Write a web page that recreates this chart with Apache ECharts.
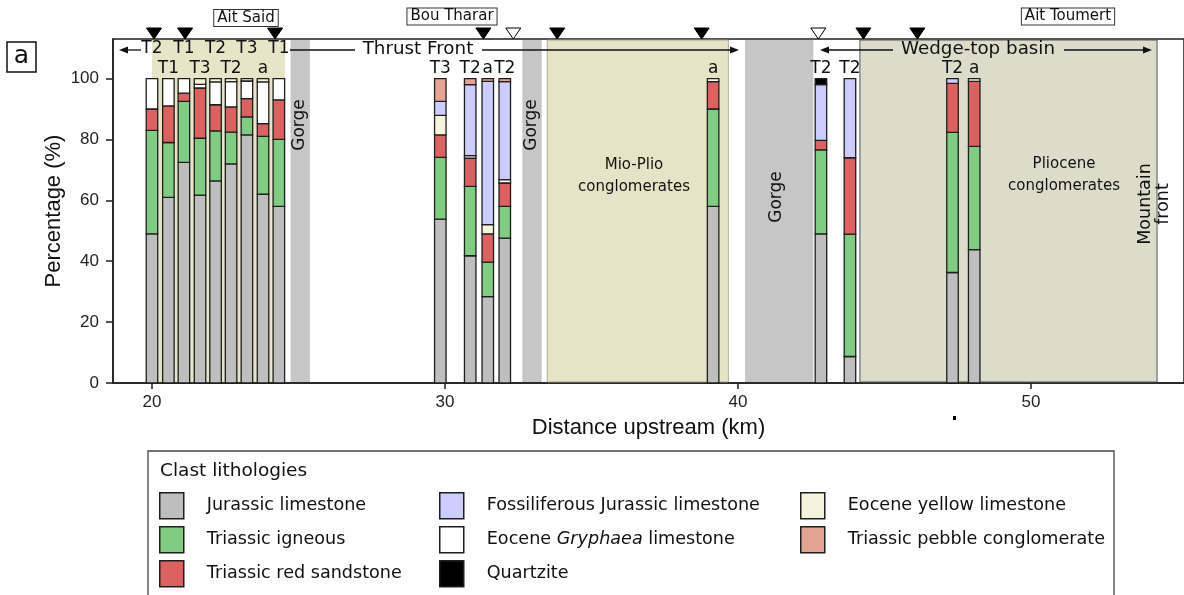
<!DOCTYPE html>
<html>
<head>
<meta charset="utf-8">
<script src="https://cdn.jsdelivr.net/npm/echarts@6/dist/echarts.min.js"></script>
<style>
  html, body { margin: 0; padding: 0; background: #fff; }
  #chart { width: 1184px; height: 595px; }
</style>
</head>
<body>
<div id="chart"></div>
<script>
// sample positions along the river (km) and the terrace each one belongs to
const distance = [20.0, 20.56, 21.09, 21.64, 22.17, 22.70, 23.24, 23.79, 24.33,
  29.84, 30.86, 31.46, 32.04, 39.15, 42.83, 43.82, 47.32, 48.06];
const terrace = ['T2', 'T1', 'T1', 'T3', 'T2', 'T2', 'T3', 'a', 'T1',
  'T3', 'T2', 'a', 'T2', 'a', 'T2', 'T2', 'T2', 'a'];
const labelRow = [1, 2, 1, 2, 1, 2, 1, 2, 1, 2, 2, 2, 2, 2, 2, 2, 2, 2];

// clast counts (% of each sample), listed bottom to top of the stacks
const jurassic = [49, 61, 72.5, 61.7, 66.4, 72, 81.5, 62, 58, 53.8, 41.8, 28.4, 47.6, 58, 49, 8.7, 36.3, 43.8];
const igneous = [34, 18, 20, 18.7, 16.4, 10.4, 5.9, 19, 22, 20.3, 22.8, 11.3, 10.4, 32, 27.6, 40.2, 46, 33.9];
const redSandstone = [7, 12, 2.7, 16.5, 8.6, 8.3, 6, 4.2, 13, 7.4, 9.3, 9.3, 7.7, 9, 3.1, 25.1, 16.1, 21.4];
const gryphaea = [10, 9, 4.8, 1.2, 7.5, 8.3, 5.8, 13.7, 7, 0, 0.8, 0, 1.1, 1, 0, 0, 0, 0];
const yellowLimestone = [0, 0, 0, 1.9, 1.1, 1, 0.8, 1.1, 0, 6.4, 0, 3, 0, 0, 0, 0, 0, 0.9];
const fossiliferous = [0, 0, 0, 0, 0, 0, 0, 0, 0, 4.6, 23.3, 47.1, 32.2, 0, 18.3, 26, 1.6, 0];
const pebbleConglomerate = [0, 0, 0, 0, 0, 0, 0, 0, 0, 7.5, 2, 0.9, 1, 0, 0, 0, 0, 0];
const quartzite = [0, 0, 0, 0, 0, 0, 0, 0, 0, 0, 0, 0, 0, 0, 2, 0, 0, 0];

const lithologies = ['Jurassic limestone', 'Triassic igneous', 'Triassic red sandstone',
  'Eocene Gryphaea limestone', 'Eocene yellow limestone', 'Fossiliferous Jurassic limestone',
  'Triassic pebble conglomerate', 'Quartzite'];
const layers = [jurassic, igneous, redSandstone, gryphaea, yellowLimestone, fossiliferous, pebbleConglomerate, quartzite];
const colors = ['#bebebe', '#80cc82', '#dc6262', '#ffffff', '#f4f4dc', '#ccccff', '#e3a592', '#000000'];

// shaded reaches (km)
const reachStart = [20.0, 24.73, 32.64, 33.49, 40.24, 44.16];
const reachEnd = [24.54, 25.39, 33.30, 39.67, 42.57, 54.30];
const reachKind = ['terrace', 'gorge', 'gorge', 'mio', 'gorge', 'wedge'];

// sampling sites marked above the frame (km)
const filledMarks = [20.07, 21.13, 24.2, 31.31, 33.83, 38.76, 44.28, 46.12];
const openMarks = [32.33, 42.74];

const xTicks = [20, 30, 40, 50];
const yTicks = [0, 20, 40, 60, 80, 100];

const SANS = 'DejaVu Sans';
const AX = 'Liberation Sans';
const BAR_W = 11.5;

const reachStyle = {
  terrace: { fill: '#e7e5c7' },
  gorge: { fill: '#c6c6c6' },
  mio: { fill: '#e6e4c6', stroke: '#9a9a88', lineWidth: 0.8 },
  wedge: { fill: '#dcdccb', stroke: '#555', lineWidth: 1 }
};

const chart = echarts.init(document.getElementById('chart'));

// stack each lithology on top of the previous ones
const stackTop = distance.map(() => 0);
const barSeries = layers.map((vals, k) => {
  const data = distance.map((x, i) => {
    const lo = stackTop[i];
    stackTop[i] += vals[i];
    return [x, lo, stackTop[i]];
  });
  return {
    name: lithologies[k],
    type: 'custom',
    z: 3,
    itemStyle: { color: colors[k] },
    encode: { x: 0, y: [1, 2] },
    data: data,
    renderItem: (params, api) => {
      const lo = api.value(1), hi = api.value(2);
      if (hi - lo <= 0) return;
      const p0 = api.coord([api.value(0), lo]);
      const p1 = api.coord([api.value(0), hi]);
      return {
        type: 'rect',
        shape: { x: p0[0] - BAR_W / 2, y: p1[1], width: BAR_W, height: p0[1] - p1[1] },
        style: { fill: colors[k], stroke: '#1e1e1e', lineWidth: 1.3 }
      };
    }
  };
});

const reachSeries = {
  name: 'reaches',
  type: 'custom',
  z: 1,
  silent: true,
  encode: { x: [0, 1] },
  data: reachStart.map((s, i) => [s, reachEnd[i], i]),
  renderItem: (params, api) => {
    const cs = params.coordSys;
    const x0 = api.coord([api.value(0), 0])[0];
    const x1 = api.coord([api.value(1), 0])[0];
    const st = reachStyle[reachKind[api.value(2)]];
    return {
      type: 'rect',
      shape: { x: x0, y: cs.y + 1, width: x1 - x0, height: cs.height - 2 },
      style: Object.assign({ stroke: null }, st)
    };
  }
};

const legendCols = [[0, 1, 2], [5, 3, 7], [4, 6]];
const legendLeft = [159, 439, 800];

const axisLineStyle = { color: '#1e1e1e', width: 1.5 };

chart.setOption({
  animation: false,
  grid: { left: 113, top: 39, right: -3, bottom: 212, show: true, borderColor: '#1e1e1e', borderWidth: 1.5, backgroundColor: 'transparent' },
  xAxis: {
    type: 'value', min: 18.67, max: 55.22,
    splitLine: { show: false },
    axisLine: { show: true, lineStyle: axisLineStyle },
    axisTick: { show: true, customValues: xTicks, length: 6, lineStyle: axisLineStyle },
    axisLabel: { customValues: xTicks, fontFamily: AX, fontSize: 17, color: '#222', margin: 11 },
    name: 'Distance upstream (km)', nameLocation: 'middle', nameGap: 34,
    nameTextStyle: { fontFamily: AX, fontSize: 22, color: '#111' }
  },
  yAxis: {
    type: 'value', min: 0, max: 113,
    splitLine: { show: false },
    axisLine: { show: true, lineStyle: axisLineStyle },
    axisTick: { show: true, customValues: yTicks, length: 7, lineStyle: axisLineStyle },
    axisLabel: { customValues: yTicks, fontFamily: AX, fontSize: 17, color: '#222', margin: 14 },
    name: 'Percentage (%)', nameLocation: 'middle', nameGap: 48, nameMoveOverlap: false,
    nameTextStyle: { fontFamily: AX, fontSize: 22, color: '#111' }
  },
  legend: legendCols.map((col, c) => ({
    left: legendLeft[c], top: 492, orient: 'vertical',
    itemWidth: 24, itemHeight: 26, itemGap: 6.5, icon: 'rect', padding: 0,
    selectedMode: false,
    itemStyle: { borderColor: '#1e1e1e', borderWidth: 1.5 },
    data: col.map(k => lithologies[k]),
    formatter: n => n === 'Eocene Gryphaea limestone' ? 'Eocene {i|Gryphaea} limestone' : n,
    textStyle: {
      fontFamily: SANS, fontSize: 17.6, color: '#111', padding: [0, 0, 0, 18],
      rich: { i: { fontFamily: SANS, fontSize: 17.6, fontStyle: 'italic', color: '#111' } }
    }
  })),
  series: [reachSeries].concat(barSeries)
});

// annotations placed from the x scale
const px = km => chart.convertToPixel({ xAxisIndex: 0 }, km);
const g = [];
const font = s => s + 'px "' + SANS + '"';
function txt(x, y, text, size, extra) {
  g.push(Object.assign({
    type: 'text', x: x, y: y, z: 100,
    style: { text: text, font: font(size), fill: '#111', align: 'center', verticalAlign: 'middle', lineHeight: 22 }
  }, extra || {}));
}
function hline(x1, x2, y) {
  g.push({ type: 'line', z: 100, shape: { x1: x1, y1: y, x2: x2, y2: y }, style: { stroke: '#111', lineWidth: 1.3 } });
}
function head(x, y, dir) {
  g.push({ type: 'polygon', z: 100, shape: { points: [[x, y], [x - dir * 9, y - 3.5], [x - dir * 9, y + 3.5]] }, style: { fill: '#111' } });
}

// panel letter
g.push({ type: 'rect', z: 100, shape: { x: 7, y: 42, width: 29, height: 30 }, style: { fill: '#fff', stroke: '#111', lineWidth: 1.5 } });
txt(21.5, 56, 'a', 25);

// site names
[['Ait Said', 246, 18], ['Bou Tharar', 452, 16.5], ['Ait Toumert', 1068, 16.5]].forEach(s => {
  g.push({
    type: 'text', x: s[1], y: s[2], z: 100,
    style: { text: s[0], font: font(15), fill: '#111', align: 'center', verticalAlign: 'middle',
      borderColor: '#333', borderWidth: 1, padding: [0, 3, 0, 3], lineHeight: 16, backgroundColor: '#fff' }
  });
});

// site triangles
filledMarks.concat(openMarks).forEach((km, i) => {
  const x = px(km);
  g.push({ type: 'polygon', z: 100, shape: { points: [[x - 7.5, 28], [x + 7.5, 28], [x, 39]] },
    style: { fill: i < filledMarks.length ? '#000' : '#fff', stroke: '#000', lineWidth: 1 } });
});

// terrace labels
distance.forEach((km, i) => txt(px(km), labelRow[i] === 1 ? 49 : 68.5, terrace[i], 17));

// reach arrows
head(119, 50, -1); hline(125, 141, 50);
hline(290, 355, 50); txt(418, 49, 'Thrust Front', 18.3); hline(482, 732, 50); head(739, 50, 1);
head(820, 50, -1); hline(826, 893, 50); txt(978, 49, 'Wedge-top basin', 18.3); hline(1064, 1145, 50); head(1152, 50, 1);

// reach names
const up = { rotation: Math.PI / 2 };
txt(300, 125, 'Gorge', 17, up);
txt(532, 125, 'Gorge', 17, up);
txt(777, 197, 'Gorge', 17, up);
txt(634, 176, 'Mio-Plio\nconglomerates', 15);
txt(1064, 175, 'Pliocene\nconglomerates', 15);
txt(1145, 204, 'Mountain', 17.5, up);
txt(1163, 204, 'front', 17.5, up);

// stray mark under the axis
g.push({ type: 'rect', z: 100, shape: { x: 953, y: 416, width: 3, height: 4 }, style: { fill: '#000' } });

// legend frame and title
g.push({ type: 'rect', z: 0, shape: { x: 148, y: 451, width: 966, height: 200 }, style: { fill: 'none', stroke: '#444', lineWidth: 1.3 } });
txt(160, 471, 'Clast lithologies', 18.5, { style: { text: 'Clast lithologies', font: font(18.5), fill: '#111', align: 'left', verticalAlign: 'middle' } });

chart.setOption({ graphic: g });
</script>
</body>
</html>
